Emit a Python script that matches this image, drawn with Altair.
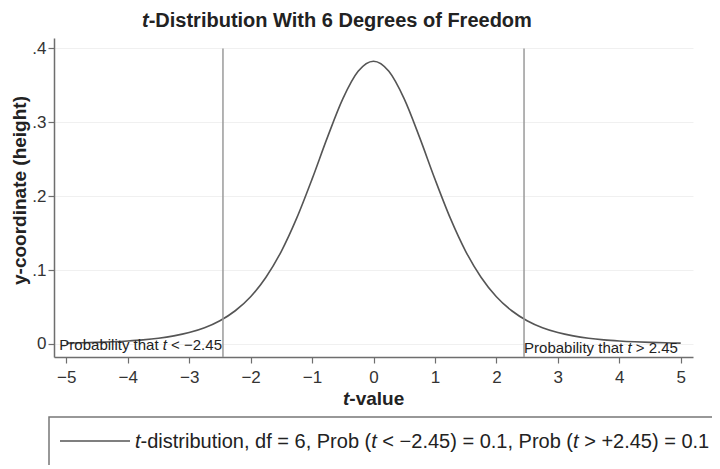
import pandas as pd
import altair as alt

# t density with 6 df, heights every 0.25
t_vals = [-5, -4.75, -4.5, -4.25, -4, -3.75, -3.5, -3.25, -3, -2.75, -2.5,
          -2.25, -2, -1.75, -1.5, -1.25, -1, -0.75, -0.5, -0.25, 0,
          0.25, 0.5, 0.75, 1, 1.25, 1.5, 1.75, 2, 2.25, 2.5,
          2.75, 3, 3.25, 3.5, 3.75, 4, 4.25, 4.5, 4.75, 5]
heights = [0.0012, 0.0016, 0.0022, 0.0030, 0.0041, 0.0056, 0.0078, 0.0110, 0.0155, 0.0220, 0.0315,
           0.0450, 0.0640, 0.0904, 0.1255, 0.1703, 0.2232, 0.2797, 0.3318, 0.3691, 0.3827,
           0.3691, 0.3318, 0.2797, 0.2232, 0.1703, 0.1255, 0.0904, 0.0640, 0.0450, 0.0315,
           0.0220, 0.0155, 0.0110, 0.0078, 0.0056, 0.0041, 0.0030, 0.0022, 0.0016, 0.0012]

# critical values and the height the markers are drawn up to
cut_t = [-2.45, 2.45]
cut_top = [0.4, 0.4]

x_ticks = [-5, -4, -3, -2, -1, 0, 1, 2, 3, 4, 5]
y_ticks = [0, 0.1, 0.2, 0.3, 0.4]
x_min, x_max = -5.2, 5.2
y_min, y_max = -0.0176, 0.4142

FONT = "Liberation Sans"
INK = "#222222"
CURVE = "#555555"

# Arial / Liberation Sans advance widths (per 1000 em), used to set italic "t" inline
REG = {" ": 278, "(": 333, ")": 333, "+": 584, ",": 278, "-": 333, ".": 278,
       "<": 584, "=": 584, ">": 584, "\u2212": 584, "P": 667,
       "a": 556, "b": 556, "c": 500, "d": 556, "e": 556, "f": 278, "g": 556,
       "h": 556, "i": 222, "l": 222, "n": 556, "o": 556, "r": 333, "s": 500,
       "t": 278, "u": 556, "v": 500, "y": 500}
BOLD = {"t": 333}


def text_width(s, size, table=REG):
    return sum(table.get(c, 556) for c in s) * size / 1000.0


def rich_text(x, y, parts, size, start=0.0, weight="normal", table=REG, dy=0):
    """one text mark per run, so the italic t can sit inside normal text"""
    one = pd.DataFrame({"k": [0]})
    layers = []
    pos = start
    for s, italic in parts:
        lead = len(s) - len(s.lstrip(" "))
        layers.append(
            alt.Chart(one).mark_text(
                text=s.strip(" "), align="left", baseline="alphabetic",
                dx=pos + text_width(" " * lead, size, table), dy=dy,
                font=FONT, fontSize=size, fontWeight=weight,
                fontStyle="italic" if italic else "normal", color=INK,
            ).encode(x=x, y=y)
        )
        pos += text_width(s, size, table)
    return layers


curve_df = pd.DataFrame({"t": t_vals, "h": heights})
cuts_df = pd.DataFrame({"t": cut_t, "top": cut_top})

x_enc = alt.X("t:Q", scale=alt.Scale(domain=[x_min, x_max], nice=False, zero=False),
              axis=alt.Axis(values=x_ticks, format="d", title="", grid=False,
                            labelFont=FONT, labelFontSize=17, labelColor="#333333",
                            labelPadding=6, tickSize=6, tickColor="#6e6e6e",
                            domainColor="#6e6e6e", domainWidth=1.5, tickWidth=1.2))
y_enc = alt.Y("h:Q", scale=alt.Scale(domain=[y_min, y_max], nice=False, zero=False),
              axis=alt.Axis(values=y_ticks,
                            labelExpr="datum.value == 0 ? '0' : replace(format(datum.value, '.1f'), '0.', '.')",
                            grid=True, gridColor="#f0f0f0",
                            labelFont=FONT, labelFontSize=17, labelColor="#333333",
                            labelPadding=2, tickSize=6, tickColor="#6e6e6e",
                            domainColor="#6e6e6e", domainWidth=1.5, tickWidth=1.2,
                            title="y-coordinate (height)", titleFont=FONT,
                            titleFontSize=19, titleFontWeight="bold", titleColor=INK,
                            titleAngle=270, titleX=-35, titleY=152,
                            titleAlign="center", titleBaseline="middle"))

curve = alt.Chart(curve_df).mark_line(color=CURVE, strokeWidth=1.6, interpolate="monotone").encode(
    x=x_enc, y=y_enc
)

cuts = alt.Chart(cuts_df).mark_rule(color="#9a9a9a", strokeWidth=1.5).encode(
    x="t:Q", y="top:Q", y2=alt.datum(y_min)
)

layers = [curve, cuts]

# title and x-axis title, with italic t
layers += rich_text(alt.value(88), alt.value(-11),
                    [("t", True), ("-Distribution With 6 Degrees of Freedom", False)],
                    20, weight="bold", table=BOLD)
layers += rich_text(alt.value(289), alt.value(367),
                    [("t", True), ("-value", False)], 19, weight="bold", table=BOLD)

# tail annotations
left_parts = [("Probability that ", False), ("t", True), (" < \u22122.45", False)]
left_w = sum(text_width(s, 15) for s, _ in left_parts)
layers += rich_text(alt.datum(cut_t[0]), alt.datum(0), left_parts, 15, start=-1 - left_w, dy=6)
layers += rich_text(alt.datum(cut_t[1]), alt.datum(0),
                    [("Probability that ", False), ("t", True), (" > 2.45", False)], 15, start=0, dy=9)

# legend box
one = pd.DataFrame({"k": [0]})
box = alt.Chart(one).mark_rect(filled=False, stroke="#777777", strokeWidth=1.5).encode(
    x=alt.value(-5), x2=alt.value(720), y=alt.value(379), y2=alt.value(520)
)
sample = alt.Chart(one).mark_rule(color=CURVE, strokeWidth=1.6).encode(
    x=alt.value(6), x2=alt.value(76), y=alt.value(403)
)
layers += [box, sample]
layers += rich_text(alt.value(81), alt.value(410),
                    [("t", True), ("-distribution, df = 6, Prob (", False), ("t", True),
                     (" < \u22122.45) = 0.1, Prob (", False), ("t", True), (" > +2.45) = 0.1", False)],
                    20)

chart = alt.layer(*layers).properties(
    width=639, height=319,
    padding={"left": 46, "top": 30, "right": 19, "bottom": 108},
    autosize="none",
).configure_view(stroke=None)

chart.save("out.html", embed_options={"renderer": "svg", "actions": False})
